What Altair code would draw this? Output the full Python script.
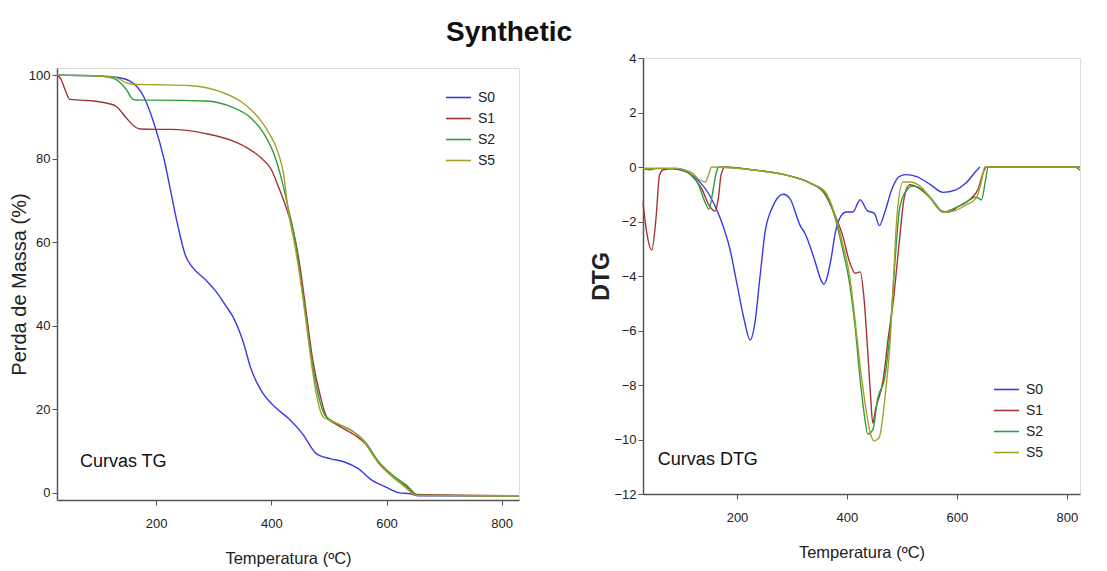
import altair as alt
import pandas as pd

SERIES = ["S0", "S1", "S2", "S5"]
COLORS = ["#3a3ae2", "#a33535", "#2f9e3a", "#a3a126"]

# ---------------- TG curves (Perda de Massa %) ----------------
tg_s0_t = [28, 60, 100, 130, 154, 178, 196, 214, 226, 238, 251, 262, 286, 303, 320, 334, 352, 364, 382, 406, 430, 454, 478, 502, 527, 551, 575, 599, 623, 641, 655, 830]
tg_s0_v = [100, 99.9, 99.8, 99.5, 98.6, 95, 88.6, 79.8, 71.8, 63.8, 56.8, 54.2, 51, 48.4, 45, 42, 35.8, 30, 24.6, 20.6, 17.8, 14.2, 9.4, 8.2, 7.4, 5.8, 3, 1.4, 0, -0.2, -0.7, -0.7]

tg_s1_t = [28, 35, 42, 50, 70, 106, 130, 148, 160, 166, 172, 200, 226, 286, 334, 358, 382, 400, 412, 427, 439, 448, 460, 472, 484, 496, 508, 520, 545, 563, 587, 611, 635, 653, 830]
tg_s1_v = [100, 99, 96.5, 94.2, 94, 93.5, 92.6, 89.8, 88, 87.4, 87.1, 87, 87, 86, 84.2, 82.6, 80.2, 77.4, 73.4, 67.8, 62.2, 55.8, 43.8, 31.8, 23.8, 18.2, 16.8, 15.8, 13.8, 11.8, 7, 3.8, 1.4, -0.4, -0.7]

tg_s2_t = [28, 80, 106, 130, 148, 160, 172, 200, 286, 334, 364, 388, 406, 418, 430, 439, 448, 460, 472, 481, 493, 514, 539, 563, 587, 611, 635, 656, 830]
tg_s2_v = [100, 99.9, 99.7, 99, 96.6, 94.2, 94, 94, 93.8, 92.2, 89.8, 85.8, 80.6, 75, 67.8, 62.2, 54.2, 42.2, 30.2, 23.8, 18.6, 16.6, 15, 12.2, 7.4, 4.2, 1.8, -0.6, -0.7]

tg_s5_t = [28, 100, 130, 148, 160, 200, 256, 316, 346, 370, 394, 412, 421, 430, 439, 448, 460, 469, 478, 490, 508, 533, 557, 581, 605, 629, 653, 830]
tg_s5_v = [100, 99.8, 99.4, 98.2, 97.8, 97.7, 97.5, 95.8, 93.8, 91, 86.6, 81.4, 76.6, 67, 60.6, 53.4, 41.4, 31.8, 23.8, 18.2, 17, 15.4, 13, 8.2, 4.6, 1.8, -0.6, -0.7]

# ---------------- DTG curves ----------------
dtg_s0_t = [29, 78, 104, 130, 149, 168, 187, 200, 213, 224, 232, 242, 251, 264, 284, 296, 315, 324, 341, 354, 358, 370, 379, 389, 399, 411, 424, 437, 450, 459, 469, 482, 495, 507, 527, 552, 575, 597, 616, 635, 642]
dtg_s0_v = [-0.05, -0.06, -0.15, -0.5, -1.0, -1.8, -3.0, -4.3, -5.6, -6.35, -5.8, -4.0, -2.4, -1.5, -1.0, -1.15, -2.15, -2.45, -3.4, -4.2, -4.3, -3.5, -2.4, -1.8, -1.65, -1.65, -1.2, -1.6, -1.7, -2.15, -1.65, -0.8, -0.35, -0.28, -0.35, -0.65, -0.93, -0.85, -0.6, -0.15, 0]

dtg_s1_t = [29, 35, 45, 53, 59, 66, 91, 117, 136, 149, 160, 166, 171, 178, 226, 290, 334, 360, 379, 392, 405, 415, 424, 431, 437, 443, 447, 452, 466, 475, 485, 495, 504, 514, 533, 552, 571, 584, 603, 623, 639, 648, 654, 824]
dtg_s1_v = [-1.3, -2.3, -3.05, -1.8, -0.3, -0.1, -0.05, -0.3, -0.8, -1.4, -1.62, -1.15, -0.3, 0, -0.1, -0.3, -0.6, -1.0, -1.8, -2.5, -3.5, -3.9, -3.85, -4.8, -6.5, -8.4, -9.4, -8.9, -7.8, -6.3, -4.8, -2.8, -1.15, -0.65, -0.8, -1.15, -1.6, -1.65, -1.45, -1.2, -0.8, -0.2, 0, 0]

dtg_s2_t = [29, 40, 55, 85, 110, 130, 143, 149, 156, 163, 167, 226, 290, 334, 360, 379, 392, 405, 415, 424, 431, 438, 447, 456, 469, 479, 488, 496, 507, 520, 539, 559, 575, 597, 616, 635, 645, 652, 657, 815, 820, 824]
dtg_s2_v = [-0.05, -0.1, -0.05, -0.05, -0.2, -0.65, -1.35, -1.55, -0.9, -0.15, 0, -0.1, -0.3, -0.6, -0.95, -1.9, -3.0, -4.3, -5.9, -7.8, -9.0, -9.8, -9.65, -8.5, -7.7, -5.9, -3.3, -1.5, -0.9, -0.7, -0.85, -1.3, -1.66, -1.5, -1.3, -1.1, -1.2, -0.5, 0, 0, -0.05, -0.12]

dtg_s5_t = [29, 85, 117, 130, 142, 148, 152, 155, 226, 290, 334, 360, 379, 392, 405, 415, 424, 434, 443, 449, 459, 469, 479, 485, 491, 502, 514, 533, 552, 575, 597, 616, 635, 645, 651, 824]
dtg_s5_v = [-0.05, -0.05, -0.2, -0.45, -0.55, -0.3, -0.05, 0, -0.1, -0.3, -0.6, -0.9, -1.8, -2.8, -4.0, -5.65, -7.3, -8.8, -9.8, -10.05, -9.9, -8.5, -6.3, -4.0, -1.8, -0.55, -0.55, -0.7, -1.15, -1.66, -1.6, -1.4, -1.15, -0.5, 0, 0]

# annotation texts
tg_note = ["Curvas TG"]
tg_note_t = [143]
tg_note_v = [7.3]
dtg_note = ["Curvas DTG"]
dtg_note_t = [147]
dtg_note_v = [-10.75]

X_TICKS = [200, 400, 600, 800]
TG_TICKS = [0, 20, 40, 60, 80, 100]
DTG_TICKS = [-12, -10, -8, -6, -4, -2, 0, 2, 4]


def long_df(pairs):
    rows = []
    for name, (ts, vs) in zip(SERIES, pairs):
        for i, (t, v) in enumerate(zip(ts, vs)):
            rows.append({"serie": name, "T": t, "v": v, "i": i})
    return pd.DataFrame(rows)


tg_df = long_df([(tg_s0_t, tg_s0_v), (tg_s1_t, tg_s1_v), (tg_s2_t, tg_s2_v), (tg_s5_t, tg_s5_v)])
dtg_df = long_df([(dtg_s0_t, dtg_s0_v), (dtg_s1_t, dtg_s1_v), (dtg_s2_t, dtg_s2_v), (dtg_s5_t, dtg_s5_v)])

FONT = "Liberation Sans"
FRAME = "#555555"

x_axis = dict(values=X_TICKS, title="Temperatura (ºC)", titleFontSize=16.5, titleFontWeight="normal",
              titlePadding=20, labelFontSize=13, labelPadding=12, ticks=True, tickSize=5,
              grid=False, domainColor=FRAME, domainWidth=1.5, tickColor=FRAME, labelColor="#222",
              titleColor="#222", labelFont=FONT, titleFont=FONT)


def color_enc(legend):
    return alt.Color("serie:N", scale=alt.Scale(domain=SERIES, range=COLORS), legend=legend)


def make_legend(lx, ly):
    return alt.Legend(title=None, orient="none", legendX=lx, legendY=ly, symbolType="stroke",
                      symbolSize=625, symbolStrokeWidth=1.6, labelFontSize=14, labelFont=FONT,
                      labelColor="#222", rowPadding=-4, padding=0, labelOffset=6)


TG_W, TG_H = 462, 432
DTG_W, DTG_H = 437, 436

tg_lines = alt.Chart(tg_df).mark_line(interpolate="monotone", strokeWidth=1.4).encode(
    x=alt.X("T:Q", scale=alt.Scale(domain=[28, 830], nice=False, zero=False), axis=alt.Axis(**x_axis)),
    y=alt.Y("v:Q", scale=alt.Scale(domain=[-1.7, 101.7], nice=False, zero=False),
            axis=alt.Axis(values=TG_TICKS, title="Perda de Massa (%)", titleFontSize=20,
                          titleFontWeight="normal", titlePadding=-1, labelFontSize=13,
                          labelPadding=2, tickSize=5, grid=False, domainColor=FRAME, domainWidth=1.5,
                          tickColor=FRAME, labelColor="#222", titleColor="#222", labelFont=FONT,
                          titleFont=FONT)),
    color=color_enc(make_legend(388, 16)),
    order="i:Q",
)
tg_text = alt.Chart(pd.DataFrame({"txt": tg_note, "T": tg_note_t, "v": tg_note_v})).mark_text(
    fontSize=18, font=FONT, color="#111", align="center", baseline="middle"
).encode(x="T:Q", y="v:Q", text="txt:N")

tg_chart = alt.layer(tg_lines, tg_text).properties(width=TG_W, height=TG_H)

# invisible strip that lowers the TG panel relative to the DTG panel
spacer = alt.Chart(pd.DataFrame({"a": [0]})).mark_point(opacity=0).encode(
    x=alt.X("a:Q", axis=None), y=alt.Y("a:Q", axis=None)
).properties(width=TG_W, height=8, view=alt.ViewBackground(stroke="transparent", fill="transparent"))

left = alt.vconcat(spacer, tg_chart, spacing=0).resolve_scale(
    x="independent", y="independent", color="independent"
)

dtg_lines = alt.Chart(dtg_df).mark_line(interpolate="monotone", strokeWidth=1.4).encode(
    x=alt.X("T:Q", scale=alt.Scale(domain=[29, 824], nice=False, zero=False), axis=alt.Axis(**x_axis)),
    y=alt.Y("v:Q", scale=alt.Scale(domain=[-12, 4], nice=False, zero=False),
            axis=alt.Axis(values=DTG_TICKS, title="DTG", titleFontSize=23, titleFontWeight="bold",
                          titlePadding=0, labelFontSize=13, labelPadding=2, tickSize=5, grid=False,
                          domainColor=FRAME, domainWidth=1.5, tickColor=FRAME, labelColor="#222",
                          titleColor="#222", labelFont=FONT, titleFont=FONT)),
    color=color_enc(make_legend(350, 318)),
    order="i:Q",
)
dtg_text = alt.Chart(pd.DataFrame({"txt": dtg_note, "T": dtg_note_t, "v": dtg_note_v})).mark_text(
    fontSize=18, font=FONT, color="#111", align="center", baseline="middle"
).encode(x="T:Q", y="v:Q", text="txt:N")

dtg_chart = alt.layer(dtg_lines, dtg_text).properties(width=DTG_W, height=DTG_H)

chart = alt.hconcat(left, dtg_chart, spacing=67).resolve_scale(
    color="independent", x="independent", y="independent"
).resolve_legend(color="independent").properties(
    title=alt.TitleParams("Synthetic", fontSize=28, font=FONT, fontWeight="bold",
                          color="#111", anchor="middle", dx=-37, offset=5),
    padding={"left": 0, "top": 10, "right": 5, "bottom": 5},
).configure_view(stroke=FRAME, strokeWidth=1.5).configure(background="white")

chart.save("out.html", embed_options={"renderer": "svg", "actions": False})
